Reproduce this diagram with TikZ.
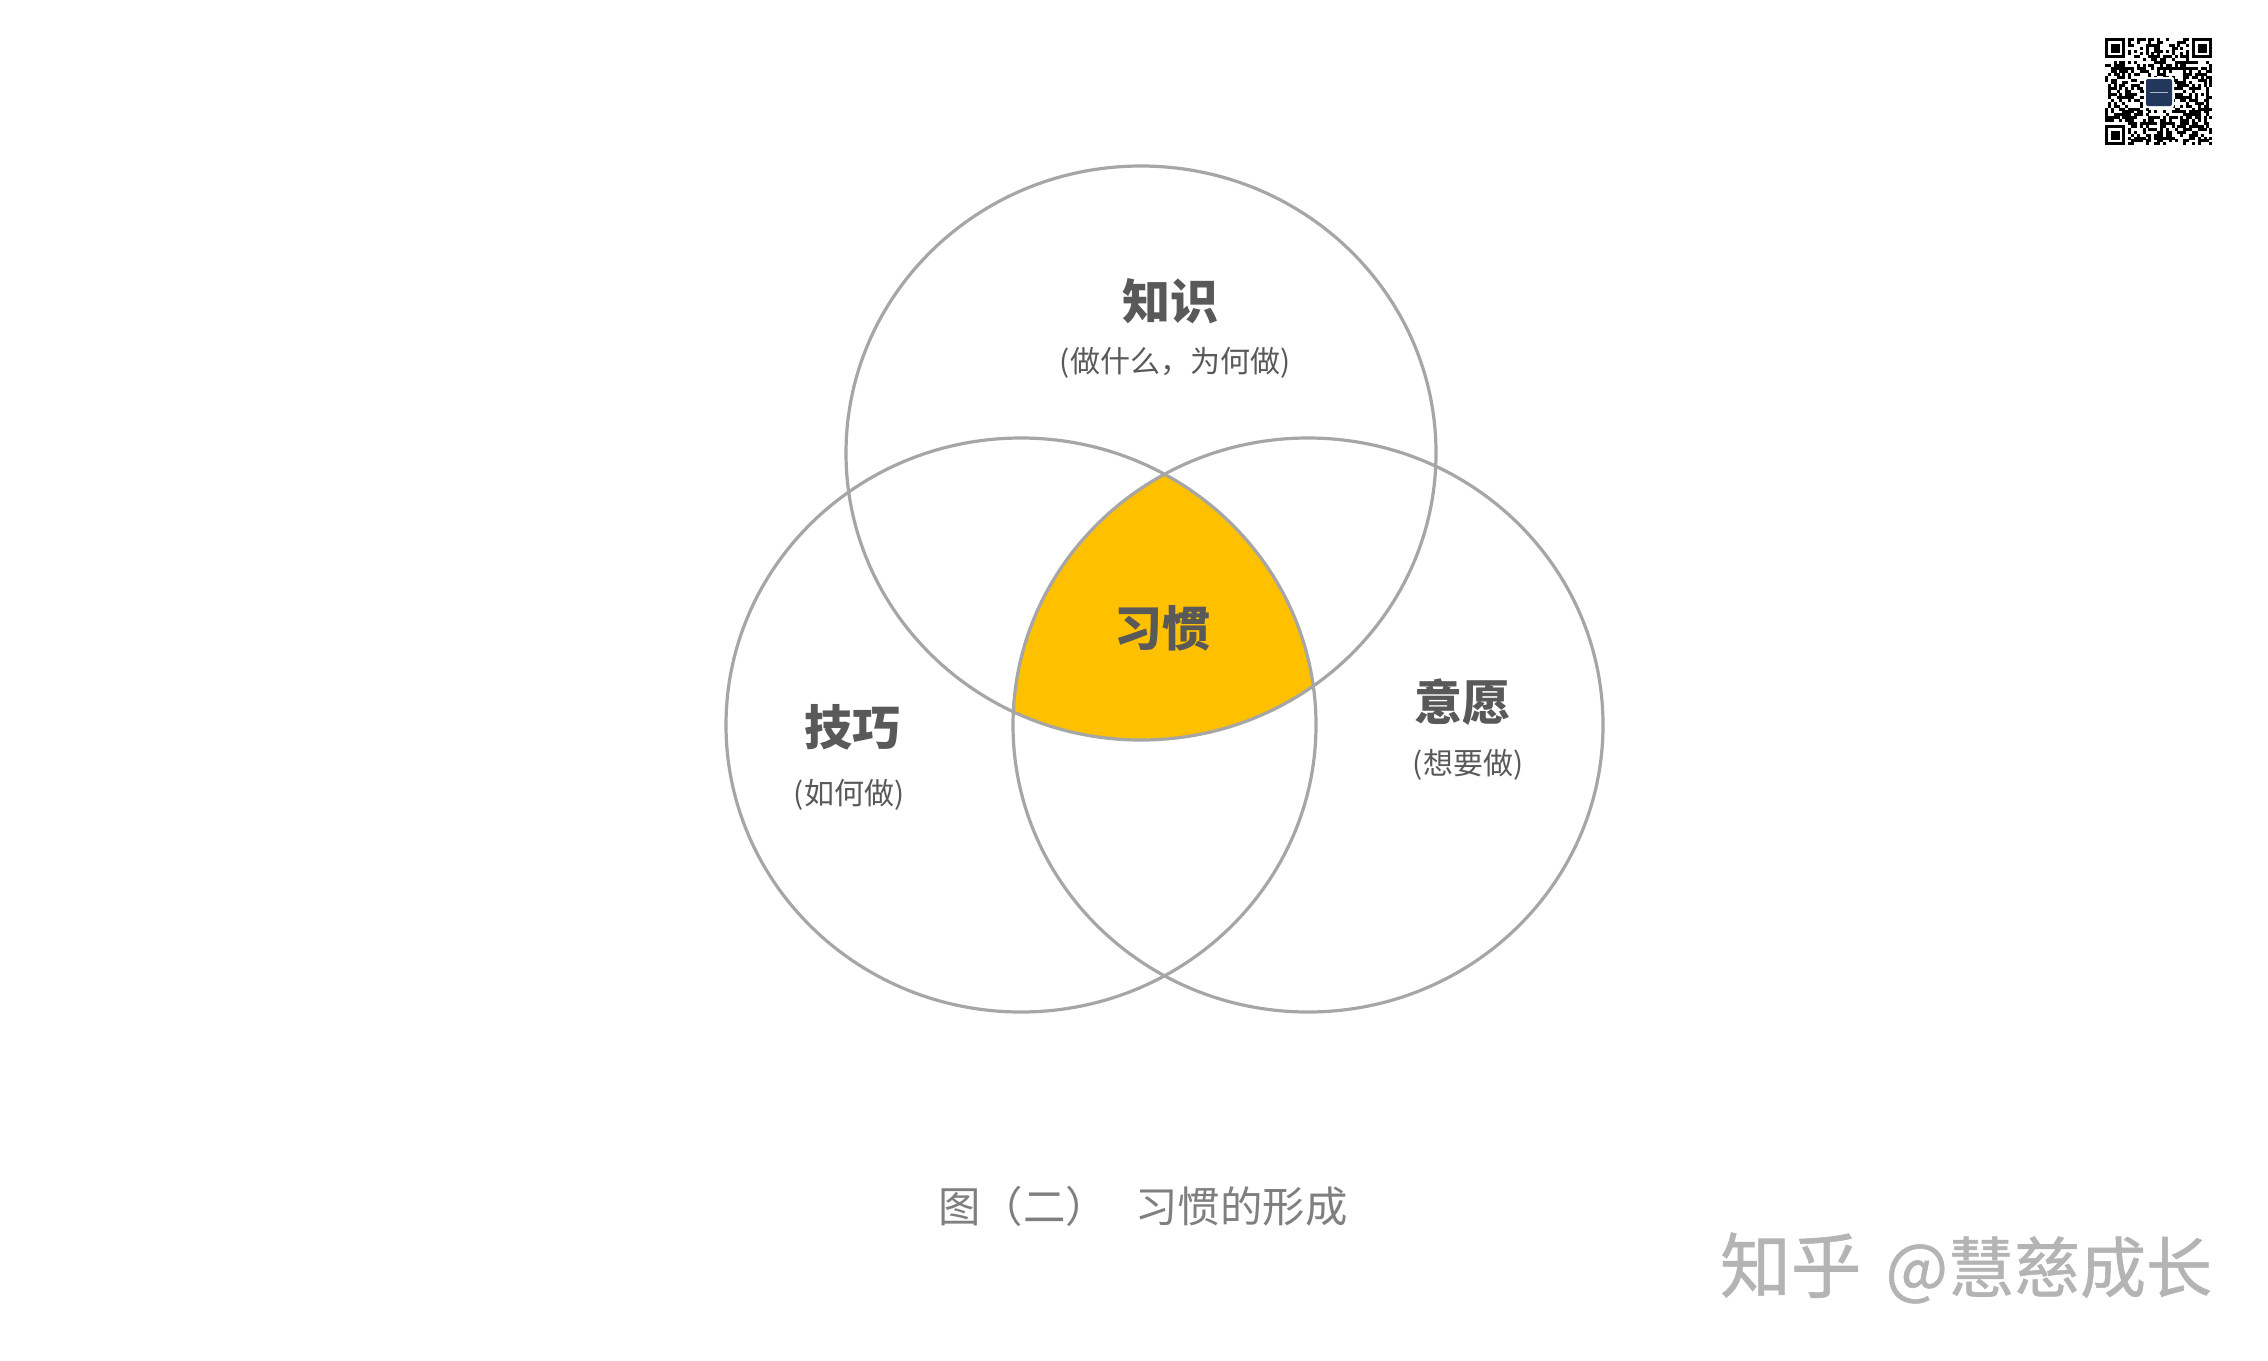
\documentclass[tikz,border=0pt]{standalone}
\usepackage{fontspec}
\setmainfont{Noto Sans CJK SC}
\newfontfamily\wmfont[FakeBold=0.8]{Noto Sans CJK SC}
\definecolor{ringgray}{HTML}{A6A6A6}
\definecolor{txtdark}{HTML}{595959}
\definecolor{amber}{HTML}{FFC000}
\definecolor{capgray}{HTML}{7F7F7F}
\definecolor{markgray}{HTML}{B4B4B4}
\definecolor{logoblue}{HTML}{22375C}
\tikzset{
 ring/.style={draw=ringgray,line width=1.6pt},
 headtxt/.style={text=txtdark,font=\fontsize{24}{24}\selectfont\bfseries,inner sep=0pt},
 subtxt/.style={text=txtdark,font=\fontsize{15}{15}\selectfont,inner sep=0pt},
 qrfinder/.pic={
  \fill[black] (0,0) rectangle (20.3,20.3);
  \fill[white] (2.9,2.9) rectangle (17.4,17.4);
  \fill[black] (5.8,5.8) rectangle (14.5,14.5);
 },
}
\begin{document}
\begin{tikzpicture}[x=0.5pt,y=-0.5pt]
\useasboundingbox (0,0) rectangle (2268,1360);
\fill[white] (0,0) rectangle (2268,1360);
\begin{scope}
\clip (1141,453) ellipse [x radius=295,y radius=287];
\clip (1021,725) ellipse [x radius=295,y radius=287];
\fill[amber] (1309,725) ellipse [x radius=295,y radius=287];
\end{scope}
\draw[ring] (1141,453) ellipse [x radius=295,y radius=287];
\draw[ring] (1021,725) ellipse [x radius=295,y radius=287];
\draw[ring] (1308,725) ellipse [x radius=295,y radius=287];
\node[headtxt] (a) at (1170,301) {知识};
\node[subtxt] (a2) at (1175,363) {(做什么，为何做)};
\node[headtxt] (b) at (852,727) {技巧};
\node[subtxt] (b2) at (849,795) {(如何做)};
\node[headtxt] (c) at (1462,702) {意愿};
\node[subtxt] (c2) at (1468,765) {(想要做)};
\node[headtxt] (d) at (1162,628) {习惯};
\node[text=capgray,font=\fontsize{21.2}{21.2}\selectfont,inner sep=0pt] (cap) at (1143,1206) {图（二）\hspace{13.7pt}习惯的形成};
\node[text=markgray,font=\wmfont,inner sep=0pt] (wm) at (1966,1268) {\fontsize{35.4}{35.4}\selectfont 知乎\hspace{12pt}\fontsize{33}{33}\selectfont @慧慈成长};
% QR code
\pgfmathsetseed{23}
\foreach \i in {0,...,36}{
 \foreach \j in {0,...,36}{
  \pgfmathtruncatemacro\qrv{rnd<0.52?1:0}
  \ifnum\qrv=1
   \fill[black] ({2105+\i*2.9-0.05},{38+\j*2.9-0.05}) rectangle ({2105+(\i+1)*2.9+0.05},{38+(\j+1)*2.9+0.05});
  \fi
 }
}
\fill[white] (2105,38) rectangle +(23.2,23.2);
\fill[white] ({2105+29*2.9},38) rectangle +(23.2,23.2);
\fill[white] (2105,{38+29*2.9}) rectangle +(23.2,23.2);
\pic at (2105,38) {qrfinder};
\pic at ({2105+30*2.9},38) {qrfinder};
\pic at (2105,{38+30*2.9}) {qrfinder};
\fill[white,rounded corners=1pt] (2144,77) rectangle (2174,108);
\fill[logoblue,rounded corners=1pt] (2146,79) rectangle (2172,106);
\fill[white!65!logoblue] (2150,91.8) rectangle (2168,92.8);
\end{tikzpicture}
\end{document}
